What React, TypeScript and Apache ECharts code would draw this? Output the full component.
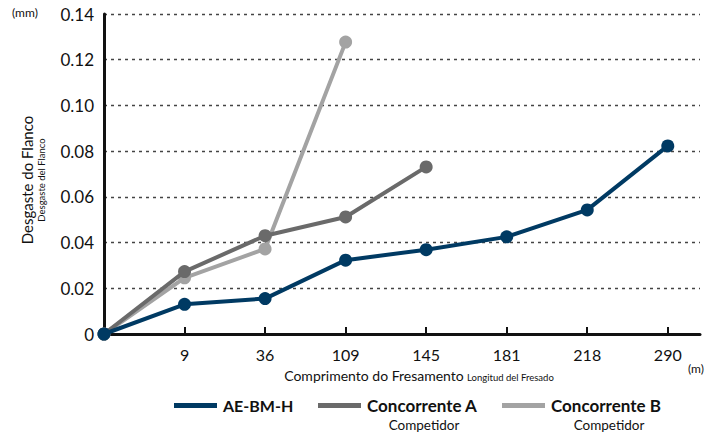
import React, { useEffect, useRef } from "react";
import * as echarts from "echarts";

const xLabels = ["", "9", "36", "109", "145", "181", "218", "290"];
const aeValues = [0, 0.013, 0.0155, 0.0323, 0.0369, 0.0425, 0.0543, 0.0823];
const compAValues = [0, 0.0273, 0.043, 0.0512, 0.0731];
const compBValues = [0, 0.0246, 0.0372, 0.1277];
const seriesNames = ["AE-BM-H", "Concorrente A", "Concorrente B"];
const seriesColors = ["#003a63", "#6a6a6a", "#a3a3a3"];

const FONT = "Lato, 'Noto Sans', sans-serif";

export default function App() {
  const ref = useRef<HTMLDivElement>(null);
  useEffect(() => {
    if (!ref.current) return;
    const chart = echarts.init(ref.current, undefined, { renderer: "svg" });
    const toPairs = (arr: number[]) => arr.map((v, i) => [i, v]);
    const valueSets = [aeValues, compAValues, compBValues];
    const tickIdx = xLabels.map((_, i) => i).filter((i) => i > 0);
    const legendLefts = [174, 318, 502];
    chart.setOption({
      animation: false,
      textStyle: { fontFamily: FONT },
      grid: { left: 104, right: 20, top: 14, bottom: 101, containLabel: false },
      xAxis: {
        type: "value",
        min: 0,
        max: 7.4,
        interval: 1,
        axisLine: { show: true, lineStyle: { color: "#111", width: 3 } },
        axisTick: {
          show: true,
          inside: true,
          length: 7,
          lineStyle: { color: "#111", width: 2 },
          customValues: tickIdx,
        },
        axisLabel: {
          customValues: tickIdx,
          formatter: (v: number) => xLabels[Math.round(v)] ?? "",
          color: "#111",
          fontSize: 16,
          fontFamily: FONT,
          margin: 12,
        },
        splitLine: { show: false },
      },
      yAxis: {
        type: "value",
        min: 0,
        max: 0.14,
        interval: 0.02,
        axisLine: { show: true, lineStyle: { color: "#111", width: 3 } },
        axisTick: { show: false },
        axisLabel: {
          formatter: (v: number) => (v === 0 ? "0" : v.toFixed(2)),
          color: "#111",
          fontSize: 17,
          fontFamily: FONT,
          margin: 10,
        },
        splitLine: {
          show: true,
          lineStyle: { color: "#444", width: 1.3, type: [3, 4] },
        },
      },
      legend: seriesNames.map((n, i) => ({
        data: [n],
        left: legendLefts[i],
        top: 397,
        padding: 0,
        icon: "rect",
        itemWidth: 43,
        itemHeight: 5,
        textStyle: {
          fontSize: i === 0 ? 16 : 17,
          lineHeight: 17,
          fontWeight: "bold",
          color: "#111",
          fontFamily: FONT,
          padding: [0, 0, 0, 1],
        },
      })),
      series: seriesNames.map((n, i) => ({
        name: n,
        type: "line",
        data: toPairs(valueSets[i]),
        symbol: "circle",
        symbolSize: 13,
        z: 4 - i,
        lineStyle: { width: 4, color: seriesColors[i] },
        itemStyle: { color: seriesColors[i] },
      })),
      graphic: [
        { type: "text", left: 12, top: 6, style: { text: "(mm)", fontSize: 12, fill: "#111", fontFamily: FONT } },
        {
          type: "text",
          x: 27,
          y: 180,
          rotation: Math.PI / 2,
          style: { text: "Desgaste do Flanco", fontSize: 15, fill: "#111", fontFamily: FONT, align: "center", verticalAlign: "middle" },
        },
        {
          type: "text",
          x: 41,
          y: 180,
          rotation: Math.PI / 2,
          style: { text: "Desgaste del Flanco", fontSize: 9.5, fill: "#111", fontFamily: FONT, align: "center", verticalAlign: "middle" },
        },
        {
          type: "text",
          x: 419,
          y: 382,
          style: {
            text: "{a|Comprimento do Fresamento} {b|Longitud del Fresado}",
            rich: {
              a: { fontSize: 14, fill: "#111", fontFamily: FONT, verticalAlign: "bottom" },
              b: { fontSize: 9.5, fill: "#111", fontFamily: FONT, verticalAlign: "bottom" },
            },
            align: "center",
            verticalAlign: "bottom",
          },
        },
        { type: "text", x: 688, y: 362, style: { text: "(m)", fontSize: 12, fill: "#111", fontFamily: FONT } },
        {
          type: "text",
          x: 424,
          y: 425,
          style: { text: "Competidor", fontSize: 13.5, lineHeight: 14, fill: "#111", fontFamily: FONT, align: "center", verticalAlign: "middle" },
        },
        {
          type: "text",
          x: 609,
          y: 425,
          style: { text: "Competidor", fontSize: 13.5, lineHeight: 14, fill: "#111", fontFamily: FONT, align: "center", verticalAlign: "middle" },
        },
      ],
    });
    return () => chart.dispose();
  }, []);
  return <div ref={ref} style={{ width: 720, height: 435, position: "absolute", left: 0, top: 0 }} />;
}
